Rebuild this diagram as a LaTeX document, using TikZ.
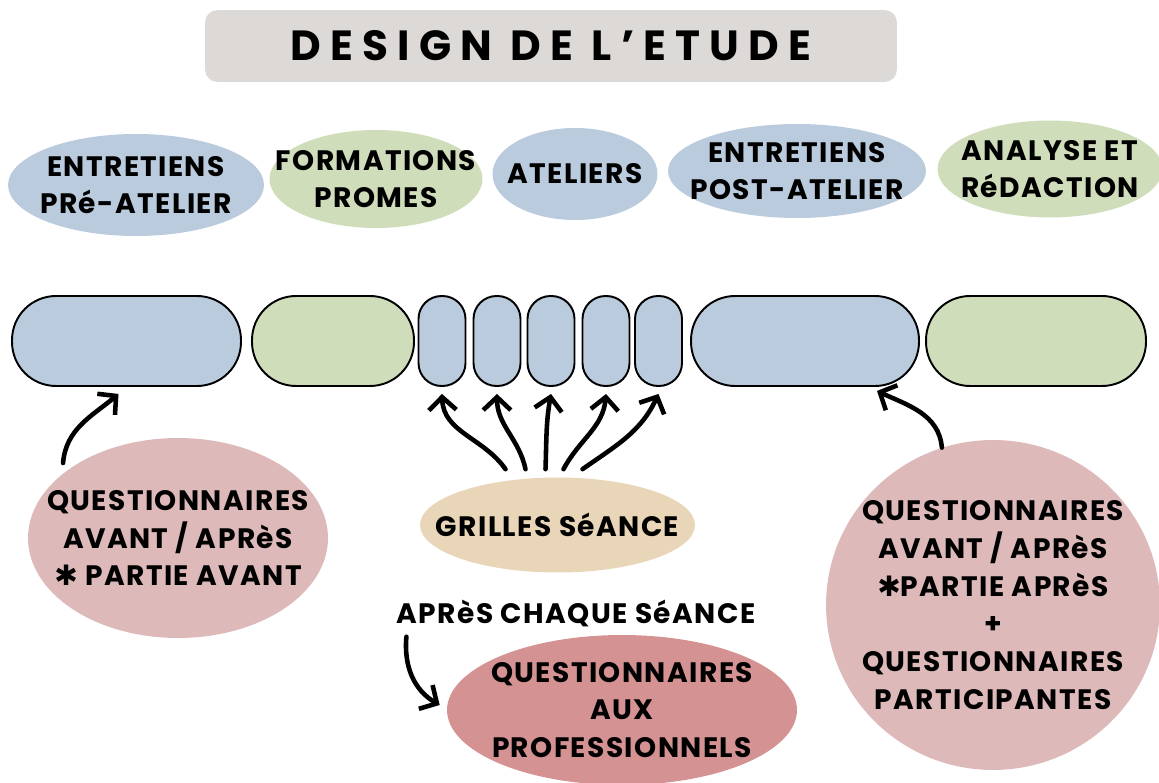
\documentclass[tikz,border=0pt]{standalone}
\usepackage{fontspec}
\setmainfont{Poppins}
\newfontfamily\hand[LetterSpace=5]{Poppins}
\newfontfamily\titre[LetterSpace=22]{Poppins}
\newfontfamily\symb{DejaVu Sans}
\usetikzlibrary{shapes.geometric,arrows.meta}
\definecolor{bleu}{HTML}{BACBDD}
\definecolor{vert}{HTML}{CFDDBA}
\definecolor{rose}{HTML}{DDB9B9}
\definecolor{roseF}{HTML}{D49293}
\definecolor{sable}{HTML}{E9D5B8}
\definecolor{gris}{HTML}{DDD9D6}
\begin{document}
\begin{tikzpicture}[x=0.02cm, y=-0.02cm,
	txt/.style={font=\hand\bfseries\fontsize{16}{21.5}\selectfont, align=center, inner sep=0},
	oval/.style={ellipse, inner sep=0},
	barre/.style={draw=black, line width=1.1pt, rounded corners=0.88cm, minimum height=1.8cm},
	petit/.style={barre, fill=bleu, rounded corners=0.46cm, minimum width=0.94cm},
	fleche/.style={-{Straight Barb[length=2.6mm,width=5.5mm]}, line width=2.6pt, line cap=round}]
	\useasboundingbox (0,0) rectangle (1159,783);
	\node[fill=gris, rounded corners=0.25cm, minimum width=13.84cm, minimum height=1.44cm,
		font=\titre\bfseries\fontsize{24}{28}\selectfont] (t0) at (551,46) {DESIGN DE L’ETUDE};
	\node[oval, fill=bleu, minimum width=5.12cm, minimum height=2.04cm,
		label={[txt]center:{ENTRETIENS\\PRé-ATELIER}}] (e1) at (136,185) {};
	\node[oval, fill=vert, minimum width=4.26cm, minimum height=1.96cm,
		label={[txt]center:{FORMATIONS\\PROMES}}] (e2) at (376,179) {};
	\node[oval, fill=bleu, minimum width=3.3cm, minimum height=1.84cm,
		label={[txt]center:ATELIERS}] (e3) at (575,174) {};
	\node[oval, fill=bleu, minimum width=5.16cm, minimum height=1.88cm,
		label={[txt]center:{ENTRETIENS\\POST-ATELIER}}] (e4) at (797,171) {};
	\node[oval, fill=vert, minimum width=4.5cm, minimum height=1.94cm,
		label={[txt]center:{ANALYSE ET\\RéDACTION}}] (e5) at (1050,169) {};
	\node[barre, fill=bleu, minimum width=4.58cm] (b1) at (126.5,341) {};
	\node[barre, fill=vert, minimum width=3.24cm] (b2) at (333,341) {};
	\foreach \i/\x in {1/442,2/497,3/551,4/606,5/658.5}
		\node[petit] (s\i) at (\x,341) {};
	\node[barre, fill=bleu, minimum width=4.56cm] (b4) at (805,341) {};
	\node[barre, fill=vert, minimum width=4.4cm] (b5) at (1036,341) {};
	\node[oval, fill=rose, minimum width=6cm, minimum height=4cm,
		label={[txt]center:{QUESTIONNAIRES\\AVANT / APRèS\\{\symb ✱} PARTIE AVANT}}] (q1) at (178,538) {};
	\node[oval, fill=sable, minimum width=5.5cm, minimum height=1.9cm,
		label={[txt]center:GRILLES SéANCE}] (g) at (557.5,525) {};
	\node[txt] (t) at (576,613) {APRèS CHAQUE SéANCE};
	\node[oval, fill=roseF, minimum width=7cm, minimum height=3cm,
		label={[txt]center:{QUESTIONNAIRES\\AUX\\PROFESSIONNELS}}] (q3) at (622,710) {};
	\node[oval, fill=rose, minimum width=6.68cm, minimum height=6.6cm,
		label={[txt]center:{QUESTIONNAIRES\\AVANT / APRèS\\{\symb ✱}PARTIE APRèS\\+\\QUESTIONNAIRES\\PARTICIPANTES}}] (q2) at (993,605) {};
	\draw[fleche] ([shift={(-2.3cm,1.5cm)}]q1.center) to[out=85, in=220] ([xshift=-0.16cm, yshift=-0.14cm]b1.south);
	\draw[fleche] (q2.108) to[out=95, in=-25] ([xshift=1.44cm, yshift=-0.08cm]b4.south);
	\foreach \i/\dx/\o/\n in {1/-52/125/-88, 2/-32/102/-90, 3/-12/88/-100, 4/6/62/-95, 5/25/35/-115}
		\draw[fleche] ([xshift=\dx*0.02cm, yshift=0.16cm]g.north) to[out=\o, in=\n] ([yshift=-0.14cm]s\i.south);
	\draw[fleche] ([xshift=0.2cm, yshift=-0.2cm]t.south west) to[out=-95, in=150] ([xshift=-0.14cm, yshift=0.1cm]q3.west);
\end{tikzpicture}
\end{document}
